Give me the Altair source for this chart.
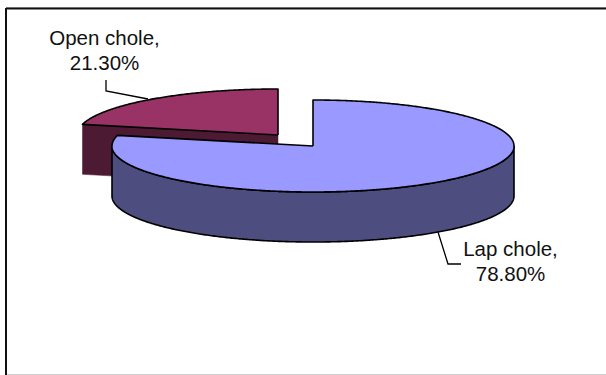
import altair as alt
import numpy as np
import pandas as pd

# Procedure shares, in percent
categories = ["Lap chole", "Open chole"]
shares = [78.8, 21.3]

# Label placement and leader paths on the canvas
label_x = [510.5, 104.5]
label_y = [250, 39]
leader_x = [[438, 448, 461], [106, 106, 148]]
leader_y = [[232, 264, 264], [80, 91, 99]]

W, H = 606, 375
RX, RY, DEPTH = 201, 46, 50
CENTERS = {"Lap chole": (313, 146), "Open chole": (278, 135)}
FILLS = {"Lap chole": ("#9999FF", "#4D4D80"), "Open chole": ("#993366", "#4D1A33")}

x_scale = alt.Scale(domain=[0, W], range=[0, W])
y_scale = alt.Scale(domain=[0, H], range=[0, H])


def rim(center, start, stop, drop=0):
    # Points on the flattened pie rim, angles clockwise from twelve o'clock
    th = np.radians(np.linspace(start, stop, max(2, int(abs(stop - start) * 2))))
    return list(zip(center[0] + RX * np.sin(th), center[1] - RY * np.cos(th) + drop))


def polygon(points, fill, stroke=True):
    pts = list(points) + [points[0]]
    df = pd.DataFrame(pts, columns=["x", "y"]).reset_index()
    style = dict(fill=fill, strokeJoin="round", clip=False)
    if stroke:
        style.update(stroke="black", strokeWidth=1.6)
    else:
        style.update(stroke=fill, strokeWidth=0.5)
    return alt.Chart(df).mark_line(**style).encode(
        x=alt.X("x:Q", scale=x_scale, axis=None),
        y=alt.Y("y:Q", scale=y_scale, axis=None),
        order="index:Q",
    )


total = sum(shares)
split = 360 * shares[0] / total
lap, opn = CENTERS["Lap chole"], CENTERS["Open chole"]

# The detached slice: cut face first, then its top
corner = rim(opn, split, split)[0]
open_wall = polygon(
    [opn, corner, (corner[0], corner[1] + DEPTH), (opn[0], opn[1] + DEPTH)],
    FILLS["Open chole"][1], stroke=False,
)
open_top = polygon([opn] + rim(opn, split, 360), FILLS["Open chole"][0])

# The large slice: outer wall from three o'clock round to nine o'clock, then its top
lap_wall = polygon(
    rim(lap, 90, 270) + rim(lap, 270, 90, DEPTH),
    FILLS["Lap chole"][1],
)
lap_top = polygon([lap] + rim(lap, 0, split), FILLS["Lap chole"][0])

# Leader lines
leader_rows = [
    {"name": c, "i": i, "x": px, "y": py}
    for c, xs, ys in zip(categories, leader_x, leader_y)
    for i, (px, py) in enumerate(zip(xs, ys))
]
leaders = alt.Chart(pd.DataFrame(leader_rows)).mark_line(color="black", strokeWidth=1.3).encode(
    x=alt.X("x:Q", scale=x_scale, axis=None),
    y=alt.Y("y:Q", scale=y_scale, axis=None),
    detail="name:N",
    order="i:Q",
)

# Two-line data labels
labels_df = pd.DataFrame({
    "text": [f"{c},\n{s:.2f}%" for c, s in zip(categories, shares)],
    "x": label_x,
    "y": label_y,
})
labels = alt.Chart(labels_df).mark_text(
    font="Liberation Sans", fontSize=20.5, lineBreak="\n", lineHeight=25,
    align="center", baseline="middle", color="#111111",
).encode(
    x=alt.X("x:Q", scale=x_scale, axis=None),
    y=alt.Y("y:Q", scale=y_scale, axis=None),
    text="text:N",
)


def edge(x1, y1, x2, y2, color, width):
    return alt.Chart(pd.DataFrame({"x": [x1], "y": [y1], "x2": [x2], "y2": [y2]})).mark_rule(
        color=color, strokeWidth=width
    ).encode(
        x=alt.X("x:Q", scale=x_scale, axis=None),
        y=alt.Y("y:Q", scale=y_scale, axis=None),
        x2="x2:Q",
        y2="y2:Q",
    )


# Chart frame: heavy left and top, pale bottom
frame = (
    edge(6, 7.5, W, 7.5, "#cfcfcf", 1)
    + edge(6, 374.5, W, 374.5, "#cfcfcf", 1)
    + edge(6, 8.5, W, 8.5, "#111111", 2)
    + edge(6, 8, 6, H, "#111111", 2)
)

chart = (
    alt.layer(frame, open_wall, open_top, lap_wall, lap_top, leaders, labels)
    .properties(
        width=W, height=H, padding=0,
        autosize=alt.AutoSizeParams(type="none"),
        background="white",
    )
    .configure_view(stroke=None)
)

chart.save("out.html", embed_options={"renderer": "svg", "actions": False})
